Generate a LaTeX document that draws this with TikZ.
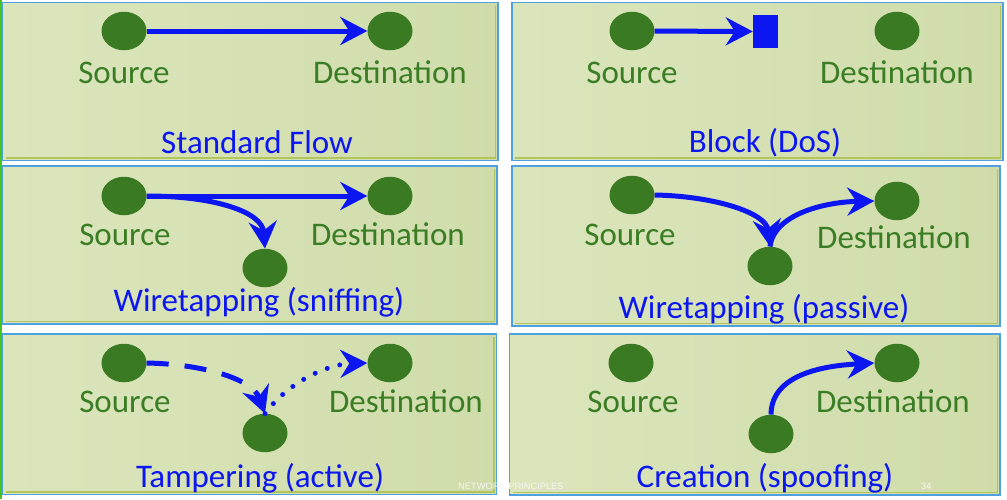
\documentclass[tikz,border=0pt]{standalone}
\usepackage{fontspec}
\setmainfont{Carlito}
\newfontfamily\footfont{Liberation Sans}
\usetikzlibrary{shapes.geometric,arrows.meta}
\definecolor{pblue}{RGB}{78,160,222}
\definecolor{polive}{RGB}{178,196,92}
\definecolor{plight}{RGB}{219,229,188}
\definecolor{pdark}{RGB}{207,220,170}
\definecolor{dgreen}{RGB}{58,122,34}
\definecolor{tgreen}{RGB}{58,125,36}
\definecolor{tblue}{RGB}{12,22,240}
\definecolor{lgreen}{RGB}{70,196,30}
\newcommand\lblfont{\fontsize{33}{40}\selectfont}
\newcommand\drawpanel[4]{%
  \shade[left color=plight,right color=pdark] (#1,#2) rectangle (#3,#4);
  \draw[polive,line width=1.2pt] ({#1+3},{#4-2.6}) -- ({#3-2.6},{#4-2.6}) -- ({#3-2.6},{#2+3});
  \draw[pblue,line width=1.6pt] (#1,#2) rectangle (#3,#4);
}
\tikzset{
  host/.style={ellipse,fill=dgreen,minimum width=45pt,minimum height=38.5pt,inner sep=0pt},
  lbl/.style={anchor=base,text=tgreen,font=\lblfont,inner sep=0pt},
  ttl/.style={anchor=base,text=tblue,font=\lblfont,inner sep=0pt},
  flow/.style={draw=tblue,line width=5pt,-{Stealth[length=27pt,width=28pt,inset=9pt]}},
  dashflow/.style={flow,dash pattern=on 22pt off 16pt},
  dotflow/.style={flow,line cap=round,dash pattern=on 0pt off 13pt},
  foot/.style={anchor=base west,text=white!96!black,font=\footfont\fontsize{9.3}{11}\selectfont,inner sep=0pt},
}
\begin{document}
\begin{tikzpicture}[x=1pt,y=-1pt]
\fill[white] (0,0) rectangle (1007,499);
\useasboundingbox (0,0) rectangle (1007,499);
\fill[lgreen] (0,0) rectangle (2.3,499);
% panels
\drawpanel{2.5}{2.5}{498}{160.5}
\drawpanel{512}{2.5}{1003}{160.5}
\drawpanel{2.5}{166}{497}{324}
\drawpanel{512}{166}{1000}{326}
\drawpanel{2.5}{334}{496.5}{494.5}
\drawpanel{509.5}{334}{1000}{495}

% Panel 1: Standard Flow
\node[host] (s1) at (124,31) {};
\node[host] (d1) at (390,31) {};
\node[lbl] (ls1) at (124,83) {Source};
\node[lbl] (ld1) at (390,83) {Destination};
\node[ttl] (t1) at (257,153) {Standard Flow};
\draw[flow] (s1) -- (d1);

% Panel 2: Block
\node[host] (s2) at (632,31) {};
\node[host] (d2) at (897,31) {};
\node[rectangle,fill=tblue,minimum width=25pt,minimum height=33pt,inner sep=0pt] (b2) at (765.5,31.5) {};
\node[lbl] (ls2) at (632,83) {Source};
\node[lbl] (ld2) at (897,83) {Destination};
\node[ttl] (t2) at (765,152) {Block (DoS)};
\draw[flow] (s2) -- (b2);

% Panel 3: Wiretapping (sniffing)
\node[host] (s3) at (124,196) {};
\node[host] (d3) at (390,196) {};
\node[host] (e3) at (265,268) {};
\node[lbl] (ls3) at (125,245) {Source};
\node[lbl] (ld3) at (388,245) {Destination};
\node[ttl] (t3) at (259,311) {Wiretapping (sniffing)};
\draw[flow] (s3) -- (d3);
\draw[flow] (s3.east) .. controls (215,196) and (262,212) .. (e3.north);

% Panel 4: Wiretapping (passive)
\node[host] (s4) at (632,195) {};
\node[host] (d4) at (897,201) {};
\node[host] (e4) at (770,266) {};
\node[lbl] (ls4) at (630,245) {Source};
\node[lbl] (ld4) at (894,248) {Destination};
\node[ttl] (t4) at (764,318) {Wiretapping (passive)};
\draw[flow] (s4.east) .. controls (712,196) and (766,212) .. (e4.north);
\draw[flow] (e4.north) .. controls (774,214) and (825,202) .. (d4.west);

% Panel 5: Tampering (active)
\node[host] (s5) at (124,363) {};
\node[host] (d5) at (390,363) {};
\node[host] (e5) at (265,433) {};
\node[lbl] (ls5) at (125,412) {Source};
\node[lbl] (ld5) at (406,412) {Destination};
\node[ttl] (t5) at (260,487) {Tampering (active)};
\draw[dashflow] (s5.east) .. controls (200,364) and (252,378) .. (e5.north);
\draw[dotflow] (e5.north) .. controls (290,380) and (330,364) .. (d5.west);

% Panel 6: Creation (spoofing)
\node[host] (s6) at (631,363) {};
\node[host] (d6) at (897,363) {};
\node[host] (e6) at (771,434) {};
\node[lbl] (ls6) at (633,412) {Source};
\node[lbl] (ld6) at (893,412) {Destination};
\node[ttl] (t6) at (765,487) {Creation (spoofing)};
\draw[flow] (e6.north) .. controls (771,385) and (800,367) .. (d6.west);

% footer
\node[foot] (f1) at (458,489) {NETWORK PRINCIPLES};
\node[foot] (f2) at (921,489) {34};
\end{tikzpicture}
\end{document}
